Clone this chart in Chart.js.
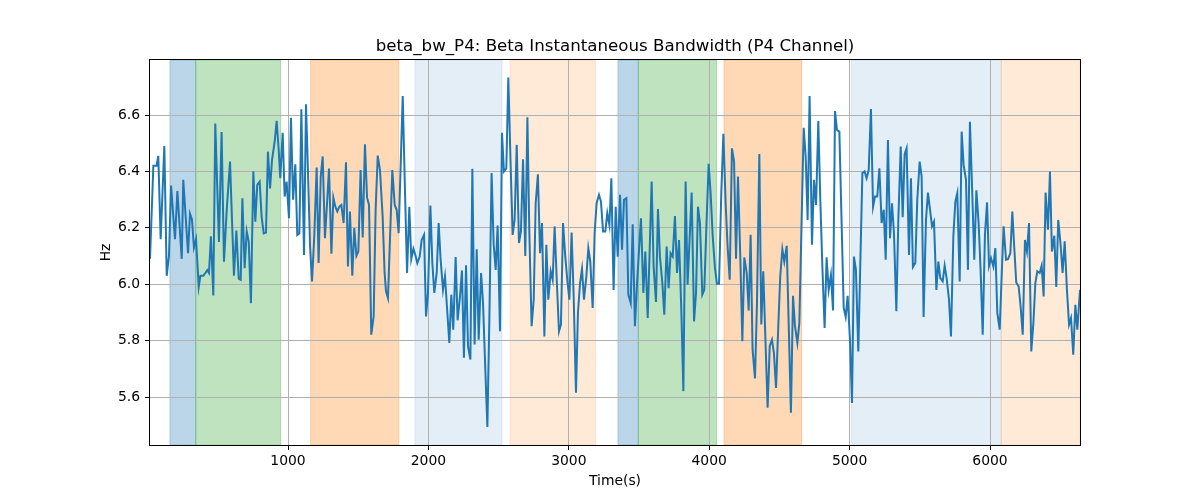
<!DOCTYPE html>
<html>
<head>
<meta charset="utf-8">
<script src="https://cdn.jsdelivr.net/npm/chart.js@4"></script>
<style>
html,body{margin:0;padding:0;background:#fff;}
#wrap{width:1200px;height:500px;}
</style>
</head>
<body>
<div id="wrap"><canvas id="c" width="1200" height="500"></canvas></div>
<script>
// ---- data ----
const times = [
17,41,64,76,93,119,136,152,167,195,212,243,254,271,288,302,316,330,345,364,376,397,411,425,437,451,468,482,508,527,544,563,587,
596,615,632,649,663,675,691,706,720,736,753,767,781,798,812,827,843,857,872,886,905,919,933,945,962,976,990,1007,1021,1036,1052,1066,1081,1095,1114,1128,
1140,1157,1171,1187,1204,1218,1233,1247,1263,1278,1292,1309,1323,1337,1351,1366,1380,1396,1413,1427,1441,1458,1472,1487,1501,1517,1532,1548,1563,1577,1593,1610,1624,1639,1655,1674,1688,1698,
1712,1743,1760,1774,1788,1817,1833,1848,1864,1878,1893,1907,1921,1938,1952,1969,1983,1997,2014,2028,2042,2059,2073,2087,2104,2118,2132,2149,2163,2177,2194,2208,2225,2239,
2253,2268,2282,2299,2313,2329,2344,2358,2375,2389,2405,2420,2434,2450,2465,2479,2493,2510,2524,2538,2555,2569,2586,2600,2614,2629,2645,2659,2674,2690,2705,2719,2735,2750,2764,2780,2795,2809,
2826,2840,2854,2871,2885,2899,2916,2930,2944,2959,2975,2989,3004,3020,3035,3051,3065,3080,3094,3108,3125,3139,3153,3170,3184,3198,3215,3229,3244,3260,3274,3289,3303,3319,3334,3348,
3365,3379,3393,3410,3424,3441,3455,3471,3486,3514,3531,3545,3562,3590,3604,3621,3635,3649,3666,3680,3697,3711,3725,3740,3756,3771,3785,3801,3816,3832,3846,3875,3892,3906,3920,
3934,3951,3965,3980,3996,4010,4025,4041,4055,4070,4086,4101,4117,4131,4146,4162,4177,4191,4205,4222,4236,4250,4267,4281,4295,4309,4326,4340,4357,4371,4385,4402,4416,4431,4447,4461,4476,
4492,4506,4521,4535,4552,4566,4582,4597,4611,4628,4642,4673,4687,4701,4715,4732,4746,4761,4777,4791,4806,4822,4836,4851,4867,4882,4896,4910,4927,4958,4972,4986,5003,5017,5031,
5045,5062,5091,5107,5121,5136,5152,5167,5181,5197,5212,5228,5243,5257,5273,5288,5302,5316,5333,5347,5364,5378,5392,5406,5423,5437,5451,5468,5482,5499,5513,5527,5544,5558,5573,5587,
5601,5618,5632,5646,5663,5677,5691,5708,5722,5739,5753,5767,5784,5798,5812,5829,5843,5857,5874,5888,5903,5919,5933,5948,5964,5979,5993,6007,6024,6038,6052,6069,6083,6097,6114,6128,
6145,6159,6173,6187,6204,6218,6233,6249,6263,6278,6294,6309,6323,6337,6354,6368,6382,6396,6413,6427,6441,6458,6472,6486,6503,6517,6532,6548,6563,6577,6593,6608,6622,6641
];
const hzValues = [
6.09,6.42,6.42,6.455,6.16,6.49,6.03,6.10,6.35,6.16,6.33,6.09,6.37,6.24,6.11,6.25,6.23,6.13,6.16,5.99,6.03,6.03,6.04,6.05,6.04,6.17,5.96,6.57,6.15,6.54,6.08,6.26,6.435,
6.30,6.03,6.19,6.02,6.016,6.305,6.057,6.187,6.152,5.933,6.40,6.222,6.352,6.364,6.24,6.18,6.183,6.47,6.34,6.44,6.506,6.579,6.482,6.376,6.537,6.311,6.364,6.234,6.59,6.30,6.425,6.175,6.181,6.62,6.104,6.638,
6.44,6.134,6.01,6.17,6.414,6.075,6.382,6.453,6.163,6.287,6.41,6.108,6.307,6.275,6.258,6.275,6.281,6.217,6.432,6.063,6.258,6.03,6.199,6.10,6.116,6.405,6.166,6.496,6.307,6.281,5.821,5.886,6.264,6.456,6.405,6.24,6.04,5.975,
5.951,6.405,6.281,6.264,6.181,6.667,6.334,6.04,6.275,6.089,6.126,6.104,6.075,6.098,6.157,6.175,5.886,5.969,6.279,6.075,5.969,6.04,6.217,6.087,5.98,6.028,5.921,5.792,5.963,5.839,6.096,5.872,5.957,6.049,
5.739,6.067,5.78,5.733,6.409,5.786,6.124,5.803,6.04,5.933,5.703,5.494,5.874,6.394,6.14,6.051,6.208,5.833,6.537,6.40,6.411,6.733,6.417,6.175,6.228,6.494,6.146,6.187,6.443,6.10,6.592,6.181,5.851,5.945,6.287,6.39,6.11,6.217,
5.815,6.14,5.945,6.046,6.016,6.205,5.992,5.833,5.857,6.217,6.098,6.016,5.945,6.183,5.951,5.615,5.898,6.004,6.054,5.945,6.028,6.128,6.08,5.916,6.181,6.287,6.317,6.293,6.187,6.187,6.252,6.21,6.376,5.98,6.275,6.098,
6.317,6.122,6.299,6.305,5.963,5.933,6.213,5.851,6.004,6.234,5.969,6.116,5.88,6.364,6.063,5.937,6.267,6.098,6.006,5.892,6.134,5.986,6.11,6.098,6.242,6.04,6.157,5.916,5.621,6.364,5.998,6.325,5.868,5.969,6.275,
6.217,5.963,5.98,6.205,6.427,6.323,6.17,6.057,6.002,6.002,6.323,6.533,6.287,6.134,6.016,6.482,6.435,6.09,6.382,6.087,5.798,6.095,6.04,5.907,6.175,5.768,5.666,5.927,6.462,5.857,6.046,5.78,5.562,5.78,5.803,5.756,5.632,
5.851,6.028,6.124,6.08,6.136,5.863,5.544,5.959,5.851,5.792,5.863,6.555,6.453,6.228,6.667,6.14,6.37,6.281,6.579,6.305,6.063,5.845,6.095,5.98,6.033,5.907,6.614,6.547,6.541,5.916,5.884,5.959,5.798,5.579,6.098,
6.051,5.762,6.394,6.40,6.376,6.405,6.621,6.275,6.311,6.311,6.411,6.217,6.264,6.087,6.511,6.163,6.287,6.181,5.904,6.228,6.488,6.238,6.461,6.482,6.104,6.376,6.061,6.075,6.30,6.435,6.382,5.884,6.228,6.325,6.264,6.205,
6.222,5.98,6.08,6.022,6.01,6.066,6.022,5.945,5.815,6.17,6.293,6.323,6.01,6.541,6.423,6.37,6.051,6.576,6.317,6.087,6.333,6.217,6.051,5.821,6.175,6.29,6.066,6.093,6.063,6.128,5.898,5.839,6.028,6.205,6.087,6.089,
6.11,6.258,6.128,6.006,5.992,5.922,5.821,6.157,6.116,6.217,5.762,5.863,6.004,6.046,6.04,6.066,5.957,6.325,6.193,6.40,6.116,6.172,5.99,6.228,6.14,6.04,6.152,5.98,5.857,5.88,5.75,5.927,5.839,5.98
];
// shaded intervals (seconds)
const spanStart = [159, 343, 1161, 1904, 2581, 3350, 3495, 4105, 5012, 6080];
const spanEnd   = [343, 948, 1788, 2524, 3191, 3495, 4053, 4659, 6080, 6641];
const spanKind  = ['b', 'g', 'o', 'lb', 'lo', 'b', 'g', 'o', 'lb', 'lo'];
const xTickValues = [1000, 2000, 3000, 4000, 5000, 6000];
const yTickValues = [5.6, 5.8, 6.0, 6.2, 6.4, 6.6];
const titleText = 'beta_bw_P4: Beta Instantaneous Bandwidth (P4 Channel)';

// ---- styles ----
const kindColor = {
  b: 'rgba(31,119,180,0.3)',
  g: 'rgba(44,160,44,0.3)',
  o: 'rgba(255,127,14,0.3)',
  lb: 'rgba(31,119,180,0.12)',
  lo: 'rgba(255,127,14,0.16)'
};

const spanPlugin = {
  id: 'spans',
  beforeDraw(chart) {
    const {ctx, chartArea: a, scales: {x}} = chart;
    ctx.save();
    ctx.beginPath();
    ctx.rect(a.left, a.top, a.right - a.left, a.bottom - a.top);
    ctx.clip();
    for (let i = 0; i < spanStart.length; i++) {
      const x0 = x.getPixelForValue(spanStart[i]);
      const x1 = x.getPixelForValue(spanEnd[i]);
      ctx.fillStyle = kindColor[spanKind[i]];
      ctx.fillRect(x0, a.top, x1 - x0, a.bottom - a.top);
      ctx.strokeStyle = kindColor[spanKind[i]];
      ctx.lineWidth = 1;
      ctx.strokeRect(x0, a.top, x1 - x0, a.bottom - a.top);
    }
    ctx.restore();
  },
  afterDatasetsDraw(chart) {
    const {ctx, chartArea: a} = chart;
    ctx.save();
    ctx.strokeStyle = '#000';
    ctx.lineWidth = 1;
    ctx.strokeRect(Math.round(a.left) - 0.5, Math.round(a.top) - 0.5, Math.round(a.right - a.left) + 1, Math.round(a.bottom - a.top) + 1);
    ctx.restore();
  }
};

Chart.defaults.font.family = "'DejaVu Sans', sans-serif";
Chart.defaults.font.size = 13.9;
Chart.defaults.color = '#000';

new Chart(document.getElementById('c'), {
  type: 'line',
  data: {
    datasets: [{
      data: times.map((t, i) => ({x: t, y: hzValues[i]})),
      borderColor: '#1f77b4',
      borderWidth: 2,
      pointRadius: 0,
      tension: 0,
      fill: false
    }]
  },
  options: {
    responsive: false,
    animation: false,
    devicePixelRatio: 1,
    layout: {padding: {left: 90, right: 120, top: 0, bottom: 0}},
    plugins: {
      legend: {display: false},
      tooltip: {enabled: false},
      title: {
        display: true,
        text: titleText,
        fullSize: false,
        color: '#000',
        font: {size: 16.67, weight: 'normal', family: "'DejaVu Sans', sans-serif"},
        padding: {top: 37, bottom: 3}
      }
    },
    scales: {
      x: {
        type: 'linear',
        min: times[0],
        max: times[times.length - 1],
        afterBuildTicks: (s) => { s.ticks = xTickValues.map(v => ({value: v})); },
        afterFit: (s) => { s.height = 55; },
        ticks: {callback: (v) => String(v), padding: 3, maxRotation: 0, color: '#000'},
        grid: {color: '#b0b0b0', lineWidth: 1, tickColor: '#000', tickLength: 5},
        border: {display: false},
        title: {display: true, text: 'Time(s)', color: '#000', font: {size: 13.9}, padding: {top: 0, bottom: 10}}
      },
      y: {
        type: 'linear',
        min: 5.43,
        max: 6.795,
        afterBuildTicks: (s) => { s.ticks = yTickValues.map(v => ({value: v})); },
        afterFit: (s) => { s.width = 60; },
        ticks: {callback: (v) => Number(v).toFixed(1), padding: 5, color: '#000'},
        grid: {color: '#b0b0b0', lineWidth: 1, tickColor: '#000', tickLength: 5},
        border: {display: false},
        title: {display: true, text: 'Hz', color: '#000', font: {size: 13.9}, padding: {top: 8, bottom: 0}}
      }
    }
  },
  plugins: [spanPlugin]
});
</script>
</body>
</html>
